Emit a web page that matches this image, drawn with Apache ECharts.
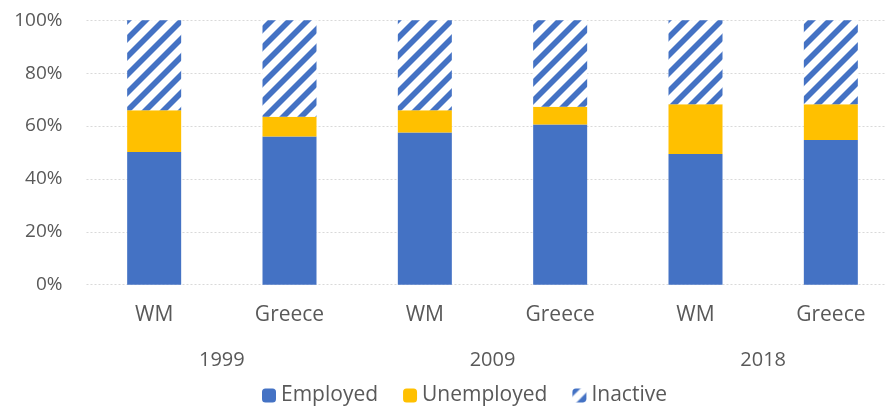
<!DOCTYPE html>
<html>
<head>
<meta charset="utf-8">
<script src="https://cdn.jsdelivr.net/npm/echarts@6/dist/echarts.min.js"></script>
<style>
  html, body { margin: 0; padding: 0; background: #fff; }
  #chart { width: 885px; height: 410px; }
</style>
</head>
<body>
<div id="chart"></div>
<script>
// data (percent of population)
const groups = ['WM', 'Greece', 'WM', 'Greece', 'WM', 'Greece']
const years = ['1999', '2009', '2018']
const employed = [50.2, 56.0, 57.5, 60.6, 49.4, 54.7]
const unemployed = [15.8, 7.5, 8.5, 6.7, 18.8, 13.5]
const inactive = [34.0, 36.5, 34.0, 32.7, 31.8, 31.8]
const yTicks = ['0%', '20%', '40%', '60%', '80%', '100%']

// diagonal stripes for "Inactive"
function stripes () {
  const s = 18
  const w = 8
  const c = document.createElement('canvas')
  c.width = s
  c.height = s
  const ctx = c.getContext('2d')
  ctx.fillStyle = '#fff'
  ctx.fillRect(0, 0, s, s)
  ctx.fillStyle = '#4472C4'
  for (const o of [-s, 0, s]) {
    ctx.beginPath()
    ctx.moveTo(o, s)
    ctx.lineTo(o + w, s)
    ctx.lineTo(o + w + s, 0)
    ctx.lineTo(o + s, 0)
    ctx.closePath()
    ctx.fill()
  }
  return c
}

const font = '"Open Sans", "Noto Sans", sans-serif'
const textColor = '#595959'

const chart = echarts.init(document.getElementById('chart'))
chart.setOption({
  animation: false,
  textStyle: { fontFamily: font },
  grid: {
    left: 86.5,
    top: 20.2,
    width: 812,
    height: 264.5,
    containLabel: false,
    outerBoundsMode: 'none'
  },
  legend: {
    bottom: -1,
    left: 257,
    itemWidth: 14,
    itemHeight: 14,
    itemGap: 25,
    textStyle: { color: textColor, fontSize: 21, fontFamily: font },
    data: ['Employed', 'Unemployed', 'Inactive']
  },
  xAxis: [
    {
      type: 'category',
      data: groups,
      axisLine: { show: false },
      axisTick: { show: false },
      axisLabel: { color: textColor, fontSize: 21, margin: 20 }
    },
    {
      type: 'category',
      data: years,
      position: 'bottom',
      axisLine: { show: false },
      axisTick: { show: false },
      axisLabel: { color: textColor, fontSize: 20, margin: 66 }
    }
  ],
  yAxis: {
    type: 'value',
    min: 0,
    max: 100,
    interval: 20,
    axisLabel: {
      color: textColor,
      fontSize: 19,
      margin: 24,
      formatter: v => yTicks[v / 20]
    },
    splitLine: { lineStyle: { color: '#d9d9d9', type: [2, 2], width: 1 } }
  },
  series: [
    {
      name: 'Employed',
      type: 'bar',
      stack: 'total',
      barWidth: 54,
      data: employed,
      itemStyle: { color: '#4472C4' }
    },
    {
      name: 'Unemployed',
      type: 'bar',
      stack: 'total',
      barWidth: 54,
      data: unemployed,
      itemStyle: { color: '#FFC000' }
    },
    {
      name: 'Inactive',
      type: 'bar',
      stack: 'total',
      barWidth: 54,
      data: inactive,
      itemStyle: { color: { image: stripes(), repeat: 'repeat' } }
    }
  ]
})
</script>
</body>
</html>
